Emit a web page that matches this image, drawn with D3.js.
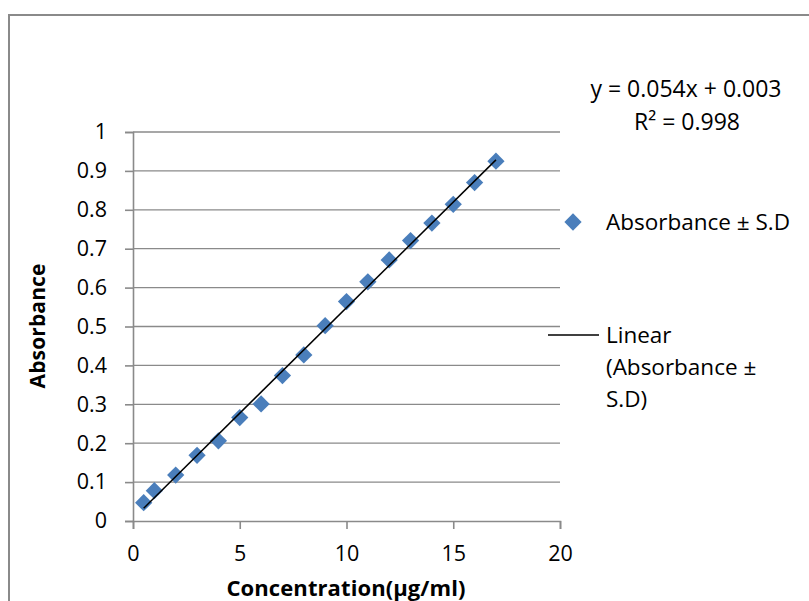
<!doctype html>
<html>
<head>
	<meta charset="utf-8">
	<title>Absorbance calibration</title>
	<script src="https://cdnjs.cloudflare.com/ajax/libs/d3/7.8.5/d3.min.js"></script>
	<style>
		body { margin: 0; background: #fff; }
		text { font-family: "Open Sans", "Liberation Sans", Arial, sans-serif; fill: #000; }
	</style>
</head>
<body>
	<script>
		// concentration (µg/ml) and measured absorbance
		var concentration = [0.5, 1, 2, 3, 4, 5, 6, 7, 8, 9, 10, 11, 12, 13, 14, 15, 16, 17];
		var absorbance = [0.047, 0.078, 0.118, 0.169, 0.206, 0.266, 0.301, 0.374, 0.427, 0.502,
			0.564, 0.615, 0.671, 0.721, 0.766, 0.814, 0.870, 0.925];
		var xTicks = [0, 5, 10, 15, 20];
		var yTicks = [0, 0.1, 0.2, 0.3, 0.4, 0.5, 0.6, 0.7, 0.8, 0.9, 1];
		var seriesName = 'Absorbance ± S.D';
		var trendLines = ['Linear', '(Absorbance ±', 'S.D)'];
		var equationText = 'y = 0.054x + 0.003';
		var r2Text = 'R² = 0.998';

		var width = 809, height = 601;
		var grey = '#8a8a8a';
		var blue = '#4a7ebb';
		var font = '"Open Sans", "Liberation Sans", Arial, sans-serif';

		var svg = d3.select('body').append('svg')
			.attr('width', width)
			.attr('height', height);

		// chart frame (runs off the right and bottom)
		svg.append('rect')
			.attr('x', 9).attr('y', 15)
			.attr('width', 900).attr('height', 700)
			.attr('fill', 'none')
			.attr('stroke', grey)
			.attr('stroke-width', 2);

		var x = d3.scaleLinear().domain([0, 20]).range([133, 560]);
		var y = d3.scaleLinear().domain([0, 1]).range([521, 132]);

		// horizontal gridlines
		svg.append('g')
			.selectAll('line')
			.data(yTicks.slice(1))
			.enter()
			.append('line')
			.attr('x1', x(0)).attr('x2', x(20))
			.attr('y1', function (d) { return y(d); })
			.attr('y2', function (d) { return y(d); })
			.attr('stroke', grey)
			.attr('stroke-width', 1.3);

		var yAxis = svg.append('g')
			.attr('transform', 'translate(' + x(0) + ',0)')
			.call(d3.axisLeft(y).tickValues(yTicks).tickSize(8).tickPadding(18)
				.tickFormat(function (d) { return d === 0 || d === 1 ? d : d3.format('.1f')(d); }));

		var xAxis = svg.append('g')
			.attr('transform', 'translate(0,' + y(0) + ')')
			.call(d3.axisBottom(x).tickValues(xTicks).tickSize(8).tickPadding(17));

		[yAxis, xAxis].forEach(function (ax) {
			ax.select('.domain').attr('stroke', grey).attr('stroke-width', 1.6);
			ax.selectAll('.tick line').attr('stroke', grey).attr('stroke-width', 1.6);
			ax.selectAll('.tick text')
				.attr('font-size', 21.5)
				.attr('font-family', font)
				.attr('fill', '#000');
		});

		// trend line from least squares
		var mx = d3.mean(concentration), my = d3.mean(absorbance);
		var sxy = d3.sum(concentration, function (c, i) { return (c - mx) * (absorbance[i] - my); });
		var sxx = d3.sum(concentration, function (c) { return (c - mx) * (c - mx); });
		var slope = sxy / sxx, intercept = my - slope * mx;
		var xr = d3.extent(concentration);

		var diamond = d3.symbol().type(d3.symbolDiamond2).size(190);

		svg.append('g')
			.selectAll('path')
			.data(concentration)
			.enter()
			.append('path')
			.attr('d', diamond)
			.attr('transform', function (d, i) {
				return 'translate(' + x(d) + ',' + y(absorbance[i]) + ')';
			})
			.attr('fill', blue);

		svg.append('line')
			.attr('x1', x(xr[0])).attr('y1', y(slope * xr[0] + intercept))
			.attr('x2', x(xr[1])).attr('y2', y(slope * xr[1] + intercept))
			.attr('stroke', '#000')
			.attr('stroke-width', 1.5);

		// axis titles
		svg.append('text')
			.attr('x', 346).attr('y', 596)
			.attr('text-anchor', 'middle')
			.attr('font-size', 22)
			.attr('font-weight', 'bold')
			.attr('textLength', 239)
			.text('Concentration(µg/ml)');

		svg.append('text')
			.attr('transform', 'translate(45,326) rotate(-90)')
			.attr('text-anchor', 'middle')
			.attr('font-size', 21)
			.attr('font-weight', 'bold')
			.attr('textLength', 125)
			.text('Absorbance');

		// equation
		svg.append('text')
			.attr('x', 686).attr('y', 97)
			.attr('text-anchor', 'middle')
			.attr('font-size', 23)
			.text(equationText);
		svg.append('text')
			.attr('x', 687).attr('y', 130)
			.attr('text-anchor', 'middle')
			.attr('font-size', 23)
			.text(r2Text);

		// legend
		svg.append('path')
			.attr('d', diamond)
			.attr('transform', 'translate(573,222)')
			.attr('fill', blue);
		svg.append('text')
			.attr('x', 606).attr('y', 230)
			.attr('font-size', 22.5)
			.text(seriesName);

		svg.append('line')
			.attr('x1', 548).attr('x2', 599)
			.attr('y1', 335).attr('y2', 335)
			.attr('stroke', '#000')
			.attr('stroke-width', 1.5);
		svg.append('g')
			.selectAll('text')
			.data(trendLines)
			.enter()
			.append('text')
			.attr('x', 606)
			.attr('y', function (d, i) { return 343 + i * 32; })
			.attr('font-size', 22.5)
			.text(function (d) { return d; });
	</script>
</body>
</html>
